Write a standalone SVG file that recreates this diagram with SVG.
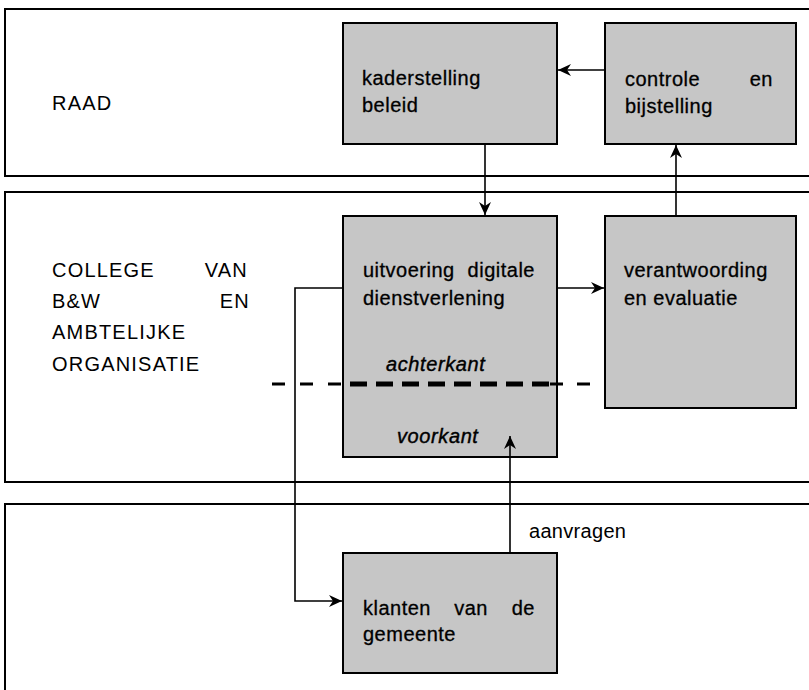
<svg xmlns="http://www.w3.org/2000/svg" width="809" height="690" viewBox="0 0 809 690">
<style>
.band{fill:#fff;stroke:#000;stroke-width:2}
.box{fill:#c6c6c6;stroke:#000;stroke-width:2}
.lbl{font-family:"Liberation Sans",Arial,sans-serif;font-size:20px;letter-spacing:1.2px;fill:#000}
.t{font-family:"Liberation Sans",Arial,sans-serif;font-size:20px;letter-spacing:0.5px;fill:#000;stroke:#000;stroke-width:0.3}
.it{font-family:"Liberation Sans",Arial,sans-serif;font-size:20px;font-style:italic;letter-spacing:0.6px;fill:#000;stroke:#000;stroke-width:0.4}
.c{fill:none;stroke:#000;stroke-width:1.6}
</style>
<defs>
<marker id="ah" markerUnits="userSpaceOnUse" markerWidth="14" markerHeight="12" refX="13" refY="6" orient="auto">
<path d="M0,0 L13,6 L0,12 L4,6 z" fill="#000"/>
</marker>
</defs>
<g id="band-raad">
<rect class="band" x="5" y="9" width="810" height="167"/>
<text class="lbl" x="52" y="110">RAAD</text>
</g>
<g id="band-college">
<rect class="band" x="5" y="192" width="810" height="290"/>
<text class="lbl" x="52" y="277">COLLEGE</text>
<text class="lbl" x="248" y="277" text-anchor="end">VAN</text>
<text class="lbl" x="52" y="308">B&amp;W</text>
<text class="lbl" x="250" y="308" text-anchor="end">EN</text>
<text class="lbl" x="52" y="339">AMBTELIJKE</text>
<text class="lbl" x="52" y="371">ORGANISATIE</text>
</g>
<g id="band-klanten">
<rect class="band" x="5" y="504" width="810" height="200"/>
</g>
<g id="kaderstelling">
<rect class="box" x="343" y="23" width="214" height="121"/>
<text class="t" x="362" y="85">kaderstelling</text>
<text class="t" x="362" y="112">beleid</text>
</g>
<g id="controle">
<rect class="box" x="605" y="23" width="191" height="121"/>
<text class="t" x="625" y="86">controle</text>
<text class="t" x="773" y="86" text-anchor="end">en</text>
<text class="t" x="625" y="113">bijstelling</text>
</g>
<g id="uitvoering">
<rect class="box" x="343" y="216" width="214" height="241"/>
<text class="t" x="363" y="277">uitvoering</text>
<text class="t" x="535" y="277" text-anchor="end">digitale</text>
<text class="t" x="363" y="305">dienstverlening</text>
<text class="it" x="386" y="371">achterkant</text>
<text class="it" x="397" y="443">voorkant</text>
</g>
<g id="verantwoording">
<rect class="box" x="605" y="216" width="191" height="192"/>
<text class="t" x="624" y="277">verantwoording</text>
<text class="t" x="624" y="305">en evaluatie</text>
</g>
<g id="klanten">
<rect class="box" x="343" y="553" width="214" height="120"/>
<text class="t" x="363" y="615">klanten</text>
<text class="t" x="471" y="615" text-anchor="middle">van</text>
<text class="t" x="535" y="615" text-anchor="end">de</text>
<text class="t" x="363" y="641">gemeente</text>
</g>
<g id="scheiding">
<path d="M272,384 H343" fill="none" stroke="#000" stroke-width="3" stroke-dasharray="13 15"/>
<path d="M350,384 H556" fill="none" stroke="#000" stroke-width="5" stroke-dasharray="17 9"/>
<path d="M550,384 H592" fill="none" stroke="#000" stroke-width="3" stroke-dasharray="13 14"/>
</g>
<g id="connectors">
<path class="c" d="M605,70 H558" marker-end="url(#ah)"/>
<path class="c" d="M485,144 V215" marker-end="url(#ah)"/>
<path class="c" d="M676,216 V145" marker-end="url(#ah)"/>
<path class="c" d="M557,288 H604" marker-end="url(#ah)"/>
<path class="c" d="M343,288 H295 V601 H342" stroke-width="2" marker-end="url(#ah)"/>
<path class="c" d="M510,553 V436" stroke-width="1.2" marker-end="url(#ah)"/>
<text class="lbl" x="529" y="538" style="letter-spacing:0.3px">aanvragen</text>
</g>
</svg>
